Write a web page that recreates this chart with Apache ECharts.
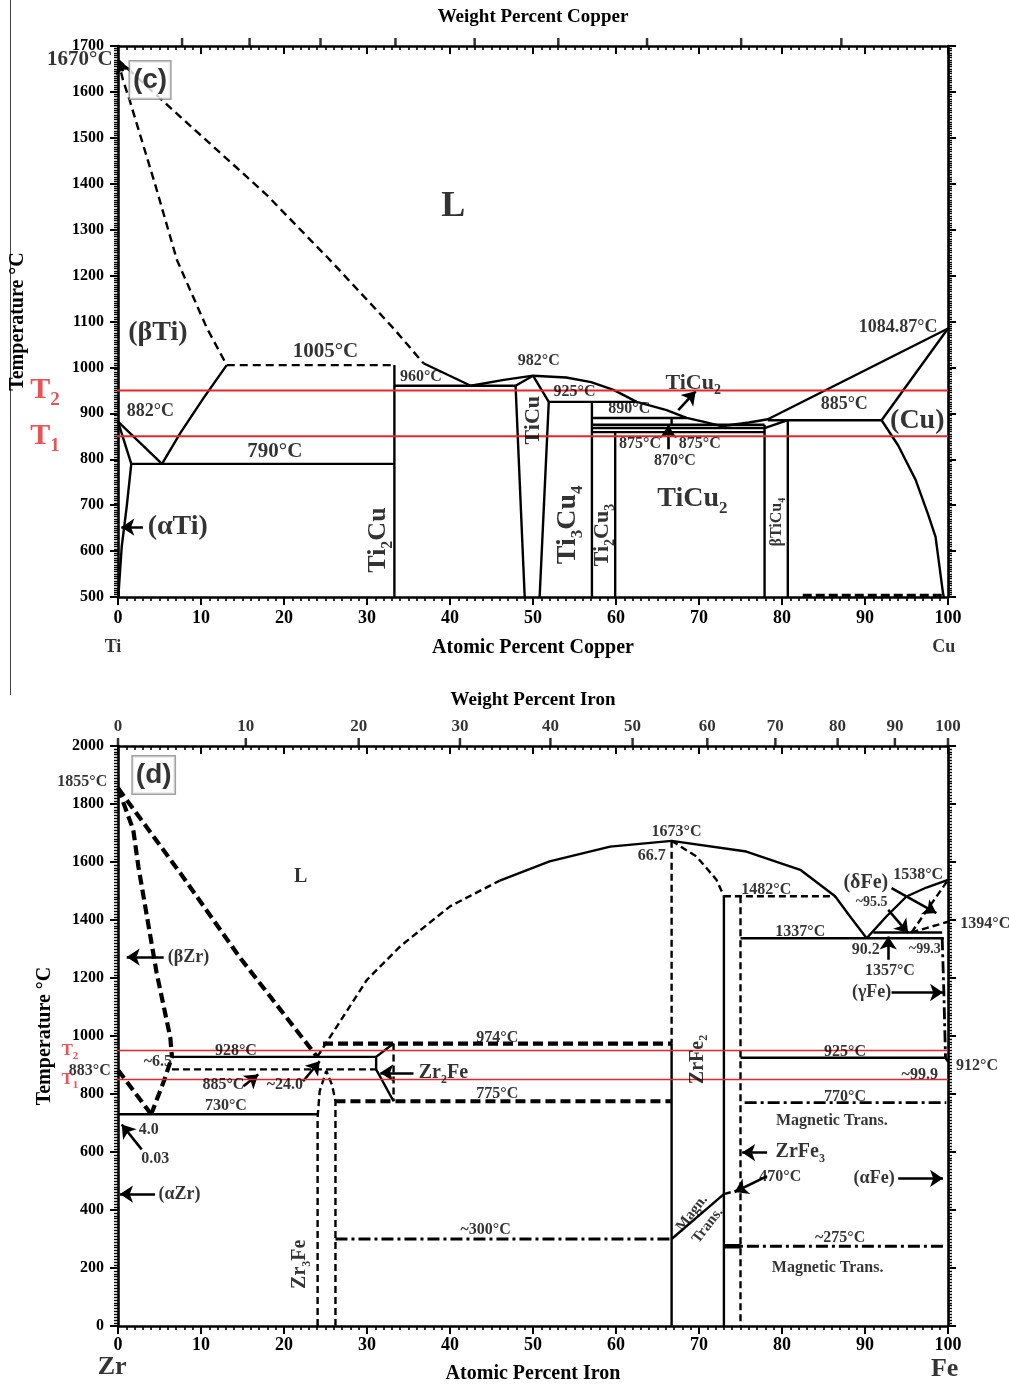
<!DOCTYPE html>
<html>
<head>
<meta charset="utf-8">
<script src="https://cdn.jsdelivr.net/npm/echarts@6/dist/echarts.min.js"></script>
<style>
  html, body { margin: 0; padding: 0; background: #fff; }
  #main { width: 1009px; height: 1385px; }
</style>
</head>
<body>
<div id="main"></div>
<script>
// ---------------- Ti–Cu system (at.% Cu, °C) ----------------
const tiCuSolid = [
  [[0, 882], [1.6, 790]],
  [[0, 882], [5.3, 790]],
  [[5.3, 790], [7.5, 857], [10.3, 933], [13.1, 1005]],
  [[1.6, 790], [1.05, 697], [0.45, 610], [0.12, 522], [0.05, 500]],
  [[1.6, 790], [33.3, 790]],
  [[33.3, 1005], [33.3, 500]],
  [[36.8, 1009], [42.5, 960], [46.5, 973], [50, 982]],
  [[33.3, 960], [47.9, 960]],
  [[47.9, 960], [50, 982]],
  [[47.9, 960], [49.0, 500]],
  [[50, 982], [51.9, 925], [50.8, 500]],
  [[50, 982], [54, 978], [57, 968], [59.7, 951], [62.5, 925], [66.1, 907], [68.5, 890], [70.5, 882], [72.7, 872], [76, 880], [78.3, 887], [100, 1084.87]],
  [[51.9, 925], [62.5, 925]],
  [[57.1, 925], [57.1, 500]],
  [[57.1, 890], [68.5, 890]],
  [[66.7, 890], [66.7, 875]],
  [[57.1, 875], [77.9, 875]],
  [[57.1, 868], [77.9, 868]],
  [[57.1, 859], [77.9, 859]],
  [[59.9, 859], [59.9, 500]],
  [[77.9, 875], [77.9, 500]],
  [[77.9, 868], [80.7, 885]],
  [[80.7, 885], [80.7, 500]],
  [[78.3, 885], [92, 885]],
  [[92, 885], [100, 1084.87]],
  [[92, 885], [94, 830], [96.1, 755], [97.6, 680], [98.5, 631], [99.4, 508], [99.5, 500]]
];
const tiCuDashed = [
  [[0, 1670], [0.6, 1626], [1.4, 1582], [4.5, 1397], [7.1, 1234], [10.7, 1086], [13.1, 1005]],
  [[0, 1670], [5.3, 1582], [17.9, 1376], [25.9, 1227], [33.2, 1085], [36.8, 1009]],
  [[13.1, 1005], [33.3, 1005]]
];
const tiCuHeavyDashed = [
  [[82.5, 503], [99.3, 503]]
];
const tiCuArrows = [
  [[0.6, 1645], [0.1, 1668]],
  [[3.0, 652], [0.4, 652]],
  [[67.5, 907], [69.6, 948]],
  [[66.3, 822], [66.3, 874]]
];
const tiCuText16 = [
  [36.5, 980, '960°C'], [50.7, 1014, '982°C'], [55, 946, '925°C'], [61.6, 909, '890°C'],
  [62.9, 833, '875°C'], [70.1, 833, '875°C'], [67.1, 796, '870°C']
];
const tiCuText18 = [
  [3.9, 905, '882°C'], [87.5, 920, '885°C'], [94, 1088, '1084.87°C']
];
const tiCuText21 = [
  [25, 1034, '1005°C'], [18.9, 816, '790°C'], [-4.6, 1670, '1670°C']
];
const tiCuPhase28 = [
  [4.8, 1075, '(βTi)'], [7.2, 652, '(αTi)'], [96.3, 883, '(Cu)'], [69.2, 713, 'TiCu{s|2}']
];
const tiCuPhase22 = [[69.3, 966, 'TiCu{s|2}']];
const tiCuBig = [[40.4, 1349, 'L']];
const tiCuVertical26 = [[31.4, 624, 'Ti{s|2}Cu']];
const tiCuVertical28 = [[54.2, 657, 'Ti{s|3}Cu{s|4}']];
const tiCuVertical22 = [[50, 885, 'TiCu'], [58.4, 635, 'Ti{s|2}Cu{s|3}']];
const tiCuVertical16 = [[79.4, 663, 'βTiCu{s|4}']];
const tiCuPanel = [[3.86, 1626, '(c)']];
const tiCuEnds = [[-0.6, 391, 'Ti'], [99.5, 391, 'Cu']];
const tiCuRefTemps = [950, 850];
// weight-percent Cu ticks, placed at their atomic-percent positions
const wtCuTickPos = [7.72, 15.85, 24.40, 33.43, 42.97, 53.05, 63.74, 75.08, 87.15];

// ---------------- Zr–Fe system (at.% Fe, °C) ----------------
const zrFeSolid = [
  [[6.5, 928], [31.1, 928]],
  [[0, 730], [24.05, 730]],
  [[33.2, 974], [31.1, 928], [31.1, 885], [33.2, 775]],
  [[46, 1536], [52, 1602], [59.3, 1653], [66.7, 1673], [75.7, 1636], [82.2, 1573], [86.4, 1482], [88.2, 1412], [90.2, 1337]],
  [[66.7, 974], [66.7, 0]],
  [[73.0, 1482], [73.0, 0]],
  [[75.0, 1337], [99.5, 1337]],
  [[90.2, 1337], [92.6, 1413], [95, 1481], [97.4, 1512], [100, 1538]],
  [[91, 1357], [99.3, 1357]],
  [[75.0, 925], [99.7, 925], [100, 912]],
  [[66.7, 300], [73.0, 455]],
  [[100, 1394], [101.3, 1394]]
];
const zrFeHeavySolid = [
  [[73.0, 275], [75.0, 275]]
];
const zrFeDashed = [
  [[24.0, 928], [25.9, 1012], [30, 1194], [34, 1309], [40, 1447], [46, 1536]],
  [[6.5, 885], [31.1, 885]],
  [[24.05, 0], [24.05, 720], [24.3, 810], [25.1, 880], [25.8, 830], [26.2, 775], [26.2, 0]],
  [[33.2, 974], [33.2, 775]],
  [[66.7, 1673], [66.7, 974]],
  [[66.7, 1673], [69.7, 1619], [72.1, 1539], [73.0, 1482]],
  [[73.0, 1482], [86.4, 1482]],
  [[75.0, 1482], [75.0, 0]],
  [[95.6, 1357], [100, 1538]],
  [[95.6, 1357], [100, 1394]],
  [[73.0, 455], [75.0, 470]]
];
const zrFeHeavyDashed = [
  [[0, 1855], [7.5, 1562], [14.7, 1270], [21.9, 1005], [24.0, 928]],
  [[0, 1855], [1.84, 1711], [2.45, 1585], [4.66, 1217], [6.3, 995], [6.5, 928]],
  [[0, 883], [4.0, 730]],
  [[4.0, 730], [5.6, 850], [6.5, 928]],
  [[24.7, 974], [66.7, 974]],
  [[26.2, 775], [66.7, 775]]
];
const zrFeDashDot = [
  [[26.2, 300], [66.7, 300]],
  [[75.5, 770], [99.8, 770]],
  [[73.0, 275], [99.8, 275]],
  [[99.3, 1337], [99.5, 1150], [99.7, 925]]
];
const zrFeArrows = [
  [[5.5, 1272], [1.05, 1272]],
  [[15.1, 827], [16.9, 867]],
  [[22.3, 844], [24.3, 913]],
  [[2.85, 609], [0.45, 695]],
  [[4.46, 455], [0.24, 455]],
  [[35.6, 873], [31.6, 873]],
  [[92.8, 1435], [95.2, 1355]],
  [[93.2, 1510], [98.6, 1424]],
  [[92.8, 1263], [92.8, 1343]],
  [[93.2, 1150], [99.4, 1150]],
  [[78.2, 598], [75.2, 598]],
  [[78.2, 517], [74.3, 462]],
  [[94.0, 509], [99.4, 509]]
];
const zrFeText16 = [
  [-4.3, 1876, '1855°C'], [4.8, 912, '~6.5'], [14.2, 950, '928°C'], [12.7, 833, '885°C'],
  [20.1, 830, '~24.0'], [13, 760, '730°C'], [3.7, 678, '4.0'], [4.5, 575, '0.03'],
  [-3.4, 881, '883°C'], [45.7, 995, '974°C'], [45.7, 800, '775°C'], [44.3, 330, '~300°C'],
  [67.3, 1704, '1673°C'], [64.3, 1621, '66.7'], [78.1, 1505, '1482°C'], [82.2, 1360, '1337°C'],
  [96.4, 1556, '1538°C'], [90.1, 1298, '90.2'], [93, 1225, '1357°C'], [104.5, 1387, '1394°C'],
  [87.6, 945, '925°C'], [103.5, 898, '912°C'], [96.6, 867, '~99.9'], [87.6, 790, '770°C'],
  [79.8, 513, '470°C'], [87, 305, '~275°C'], [86, 706, 'Magnetic Trans.'], [85.5, 200, 'Magnetic Trans.']
];
const zrFeText14 = [
  [90.8, 1460, '~95.5'], [97.2, 1298, '~99.3']
];
const zrFePhase18 = [
  [8.5, 1272, '(βZr)'], [7.4, 455, '(αZr)'], [90.8, 1150, '(γFe)'], [91.1, 509, '(αFe)']
];
const zrFePhase20 = [
  [22, 1549, 'L'], [39.2, 873, 'Zr{s|2}Fe'], [82.2, 599, 'ZrFe{s|3}'], [90.1, 1528, '(δFe)']
];
const zrFeVertical20 = [[69.8, 919, 'ZrFe{s|2}'], [21.9, 213, 'Zr{s|3}Fe']];
const zrFeSlanted15 = [[70.1, 368, 'Magn.\nTrans.']];
const zrFePanel = [[4.3, 1900, '(d)']];
const zrFeEnds = [[-0.7, -141, 'Zr'], [99.6, -148, 'Fe']];
const zrFeRefTemps = [950, 850];
// weight-percent Fe tick labels and their atomic-percent positions
const wtFeTickLabels = ['0', '10', '20', '30', '40', '50', '60', '70', '80', '90', '100'];
const wtFeTickPos = [0, 15.4, 29.0, 41.2, 52.1, 62.0, 71.0, 79.2, 86.7, 93.6, 100];

// ---------------- drawing helpers ----------------
const SERIF = '"Liberation Serif", "Times New Roman", serif';
const SANS = '"Liberation Sans", Arial, sans-serif';
const RED = '#e8262a';

function polylines(ax, list, width, type, color, z) {
  return list.map(pts => ({
    type: 'line', xAxisIndex: ax, yAxisIndex: ax, data: pts,
    showSymbol: false, symbol: 'none', silent: true, clip: false, animation: false,
    z: z || 3,
    lineStyle: { color: color || '#000', width: width, type: type, cap: 'butt' }
  }));
}

function arrows(ax, list, size) {
  return {
    type: 'lines', coordinateSystem: 'cartesian2d', xAxisIndex: ax, yAxisIndex: ax,
    silent: true, animation: false, z: 6,
    symbol: ['none', 'arrow'], symbolSize: size || 12,
    lineStyle: { color: '#000', width: 2.6, opacity: 1 },
    data: list.map(c => ({ coords: c }))
  };
}

function texts(ax, list, fs, opt) {
  opt = opt || {};
  const color = opt.color || '#000';
  const family = opt.family || SERIF;
  return {
    type: 'scatter', xAxisIndex: ax, yAxisIndex: ax, symbolSize: 1,
    itemStyle: { color: 'rgba(0,0,0,0)' }, silent: true, clip: false, animation: false, z: 10,
    data: list.map(d => ({ value: [d[0], d[1]], name: d[2] })),
    label: {
      show: true, position: 'inside', formatter: p => p.name,
      fontSize: fs, fontFamily: family, fontWeight: 'bold', color: color,
      rotate: opt.rotate || 0, lineHeight: Math.round(fs * 1.3),
      backgroundColor: opt.bg, borderColor: opt.border, borderWidth: opt.border ? 1.5 : 0,
      padding: opt.padding || 0,
      rich: {
        s: { fontSize: Math.round(fs * 0.62), fontFamily: family, fontWeight: 'bold', color: color,
             verticalAlign: 'bottom', lineHeight: Math.round(fs * 0.62) }
      }
    }
  };
}

function wtTicks(ax, pos, ymax, labels) {
  return {
    type: 'scatter', xAxisIndex: ax, yAxisIndex: ax, silent: true, clip: false, animation: false, z: 8,
    symbol: 'rect', symbolSize: [2.5, 8], symbolOffset: [0, -4], itemStyle: { color: '#000' },
    data: pos.map((p, i) => ({ value: [p, ymax], name: labels ? labels[i] : '' })),
    label: {
      show: !!labels, position: 'top', distance: 3, formatter: p => p.name,
      fontSize: 17, fontFamily: SERIF, fontWeight: 'bold', color: '#000'
    }
  };
}

function refLines(ax, temps, xStart, width) {
  return temps.map(t => ({
    type: 'line', xAxisIndex: ax, yAxisIndex: ax, data: [[xStart, t], [100, t]],
    showSymbol: false, symbol: 'none', silent: true, clip: false, animation: false, z: 7,
    lineStyle: { color: RED, width: width }
  }));
}

const axisLine = { onZero: false, lineStyle: { color: '#000', width: 2.6 } };
const nameStyle = { fontSize: 20, fontWeight: 'bold', fontFamily: SERIF, color: '#000' };
const plain = v => String(v);

function xBottom(g, name, gap, margin) {
  return {
    gridIndex: g, type: 'value', position: 'bottom', min: 0, max: 100, interval: 10,
    axisLine: axisLine, splitLine: { show: false },
    axisTick: { length: 8, lineStyle: { width: 2, color: '#000' } },
    minorTick: { show: true, splitNumber: 10, length: 4, lineStyle: { width: 1.6, color: '#000' } },
    axisLabel: { fontSize: 18, fontWeight: 'bold', fontFamily: SERIF, color: '#000', margin: margin, formatter: plain },
    name: name, nameLocation: 'middle', nameGap: gap, nameTextStyle: nameStyle
  };
}
function xTop(g, name, gap) {
  return {
    gridIndex: g, type: 'value', position: 'top', min: 0, max: 100, interval: 10,
    axisLine: axisLine, splitLine: { show: false },
    axisTick: { inside: true, length: 8, lineStyle: { width: 2, color: '#000' } },
    minorTick: { show: true, splitNumber: 10, length: 4, lineStyle: { width: 1.6, color: '#000' } },
    axisLabel: { show: false },
    name: name, nameLocation: 'middle', nameGap: gap,
    nameTextStyle: Object.assign({}, nameStyle, { fontSize: 19 })
  };
}
function yLeft(g, min, max, step, gap) {
  return {
    gridIndex: g, type: 'value', position: 'left', min: min, max: max, interval: step,
    axisLine: axisLine, splitLine: { show: false },
    axisTick: { length: 8, lineStyle: { width: 2, color: '#000' } },
    minorTick: { show: true, splitNumber: 20, length: 4, lineStyle: { width: 1.4, color: '#000' } },
    axisLabel: { fontSize: 16, fontWeight: 'bold', fontFamily: SERIF, color: '#000', margin: 14, formatter: plain },
    name: 'Temperature °C', nameLocation: 'middle', nameGap: gap, nameRotate: 90, nameTextStyle: nameStyle
  };
}
function yRight(g, min, max, step) {
  return {
    gridIndex: g, type: 'value', position: 'right', min: min, max: max, interval: step,
    axisLine: axisLine, splitLine: { show: false },
    axisTick: { length: 8, lineStyle: { width: 2, color: '#000' } },
    minorTick: { show: true, splitNumber: 20, length: 4, lineStyle: { width: 1.4, color: '#000' } },
    axisLabel: { show: false }
  };
}

// Series for the Ti–Cu panel use axis index 0, the Zr–Fe panel index 2.
const A = 0, B = 2;
const series = [].concat(
  polylines(A, tiCuSolid, 2.4, 'solid'),
  polylines(A, tiCuDashed, 2.4, [8, 5]),
  polylines(A, tiCuHeavyDashed, 3.5, [9, 4]),
  refLines(A, tiCuRefTemps, -7, 2),
  [arrows(A, tiCuArrows, 13)],
  [
    texts(A, tiCuText16, 16),
    texts(A, tiCuText18, 18),
    texts(A, tiCuText21, 21),
    texts(A, tiCuPhase28, 28),
    texts(A, tiCuPhase22, 22),
    texts(A, tiCuBig, 36),
    texts(A, tiCuVertical26, 26, { rotate: 90 }),
    texts(A, tiCuVertical28, 28, { rotate: 90 }),
    texts(A, tiCuVertical22, 22, { rotate: 90 }),
    texts(A, tiCuVertical16, 16, { rotate: 90 }),
    texts(A, tiCuPanel, 28, { family: SANS, bg: '#fff', border: '#888', padding: [1, 3, 0, 3] }),
    texts(A, tiCuEnds, 18),
    texts(A, [[-8.8, 950, 'T{s|2}'], [-8.8, 850, 'T{s|1}']], 30, { color: RED }),
    wtTicks(A, wtCuTickPos, 1700, null)
  ],
  polylines(B, zrFeSolid, 2.4, 'solid'),
  polylines(B, zrFeHeavySolid, 4.5, 'solid'),
  polylines(B, zrFeDashed, 2.4, [7, 4]),
  polylines(B, zrFeHeavyDashed, 4.2, [10, 5]),
  polylines(B, zrFeDashDot, 2.8, [12, 4, 3, 4]),
  refLines(B, zrFeRefTemps, -6.4, 1.6),
  [arrows(B, zrFeArrows, 13)],
  [
    texts(B, zrFeText16, 16),
    texts(B, zrFeText14, 14),
    texts(B, zrFePhase18, 18),
    texts(B, zrFePhase20, 20),
    texts(B, zrFeVertical20, 20, { rotate: 90 }),
    texts(B, zrFeSlanted15, 15, { rotate: 52 }),
    texts(B, zrFePanel, 28, { family: SANS, bg: '#fff', border: '#888', padding: [1, 3, 0, 3] }),
    texts(B, zrFeEnds, 26),
    texts(B, [[-5.8, 950, 'T{s|2}'], [-5.8, 850, 'T{s|1}']], 17, { color: RED }),
    wtTicks(B, wtFeTickPos, 2000, wtFeTickLabels)
  ]
);

const chart = echarts.init(document.getElementById('main'), null, { renderer: 'canvas' });
chart.setOption({
  animation: false,
  backgroundColor: '#fff',
  textStyle: { fontFamily: SERIF, fontWeight: 'bold' },
  grid: [
    { left: 118, top: 46, width: 830, height: 551 },
    { left: 118, top: 746, width: 830, height: 581 }
  ],
  xAxis: [
    xBottom(0, 'Atomic Percent Copper', 41, 12),
    xTop(0, 'Weight Percent Copper', 19),
    xBottom(1, 'Atomic Percent Iron', 38, 10),
    xTop(1, 'Weight Percent Iron', 36)
  ],
  yAxis: [
    yLeft(0, 500, 1700, 100, 90),
    yRight(0, 500, 1700, 100),
    yLeft(1, 0, 2000, 200, 63),
    yRight(1, 0, 2000, 200)
  ],
  graphic: [
    { type: 'line', silent: true, shape: { x1: 10.5, y1: 0, x2: 10.5, y2: 695 },
      style: { stroke: '#444', lineWidth: 1 } }
  ],
  series: series
});
</script>
</body>
</html>
